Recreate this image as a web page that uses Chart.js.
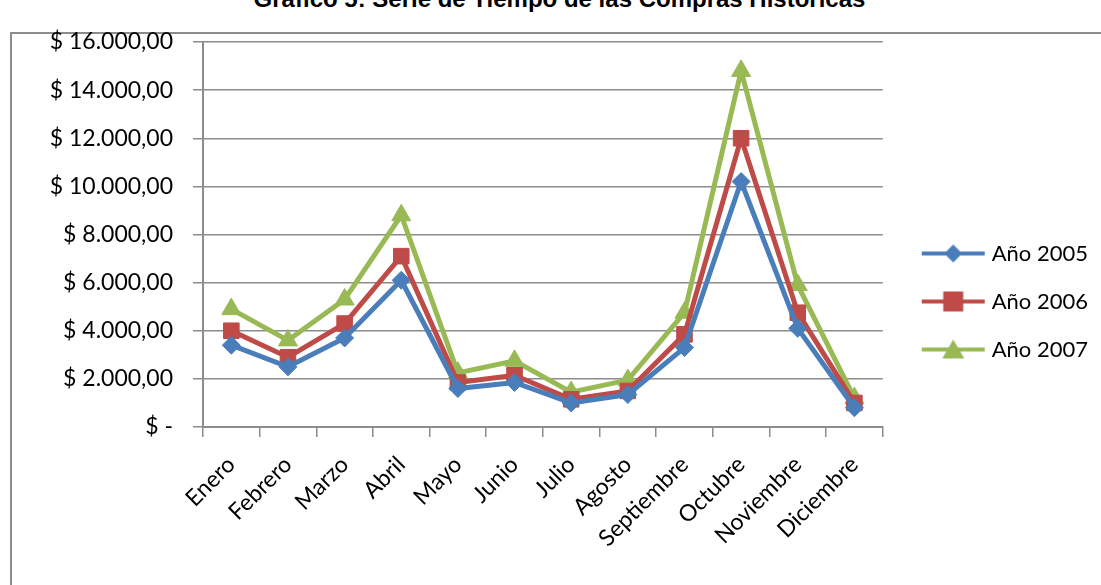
<!DOCTYPE html>
<html>
<head>
<meta charset="utf-8">
<script src="https://cdn.jsdelivr.net/npm/chart.js@4"></script>
<style>
  body { margin: 0; background: #fff; width: 1101px; height: 585px; overflow: hidden; position: relative; }
  #titulo { position: absolute; left: 9px; width: 1101px; top: -15px; text-align: center;
            font: bold 24px "Liberation Sans", Arial, sans-serif; color: #000; }
  #marco { position: absolute; left: 10px; top: 32px; width: 1200px; height: 700px; border: 2px solid #8c8c8c; }
  #wrap { position: absolute; left: 0; top: 0; width: 1101px; height: 585px; }
</style>
</head>
<body>
<div id="titulo">Gráfico 5: Serie de Tiempo de las Compras Históricas</div>
<div id="marco"></div>
<div id="wrap"><canvas id="myChart"></canvas></div>
<script>
const meses = ["Enero", "Febrero", "Marzo", "Abril", "Mayo", "Junio", "Julio", "Agosto",
               "Septiembre", "Octubre", "Noviembre", "Diciembre"];
const anio2005 = [3400, 2500, 3700, 6100, 1600, 1850, 1000, 1350, 3300, 10200, 4100, 800];
const anio2006 = [4000, 2900, 4300, 7100, 1850, 2150, 1150, 1500, 3850, 12000, 4750, 1000];
const anio2007 = [4900, 3600, 5300, 8800, 2250, 2750, 1450, 1950, 4750, 14800, 5900, 1200];
const ticksY = [0, 2000, 4000, 6000, 8000, 10000, 12000, 14000, 16000];

const azul = "#4a7ebb";
const rojo = "#be4b48";
const verde = "#98b954";
const fuente = "Lato, 'Open Sans', sans-serif";

// icono de la leyenda: linea con marcador (centrado en 41, la linea va de 18 a 81)
function iconoLeyenda(color, estilo) {
  const c = document.createElement('canvas');
  c.width = 82; c.height = 22;
  const g = c.getContext('2d');
  g.strokeStyle = color; g.fillStyle = color; g.lineWidth = 4;
  g.beginPath(); g.moveTo(18, 11); g.lineTo(81, 11); g.stroke();
  const m = 49.5;
  g.beginPath();
  if (estilo === 'rectRot') {
    g.moveTo(m, 2); g.lineTo(m + 9, 11); g.lineTo(m, 20); g.lineTo(m - 9, 11);
  } else if (estilo === 'rect') {
    g.rect(m - 10, 1, 20, 20);
  } else {
    g.moveTo(m, 1); g.lineTo(m + 11, 20); g.lineTo(m - 11, 20);
  }
  g.closePath(); g.fill();
  return c;
}

function formatoPesos(v) {
  if (v === 0) return "$ -";
  return "$ " + v.toLocaleString('de-DE', { minimumFractionDigits: 2, maximumFractionDigits: 2 });
}

const data = {
  labels: meses,
  datasets: [
    { label: "Año 2005", data: anio2005, borderColor: azul, backgroundColor: azul,
      pointStyle: 'rectRot', pointRadius: 9, borderWidth: 5, pointBorderWidth: 1 },
    { label: "Año 2006", data: anio2006, borderColor: rojo, backgroundColor: rojo,
      pointStyle: 'rect', pointRadius: 11, borderWidth: 5, pointBorderWidth: 1 },
    { label: "Año 2007", data: anio2007, borderColor: verde, backgroundColor: verde,
      pointStyle: 'triangle', pointRadius: 11, borderWidth: 5, pointBorderWidth: 1 },
  ],
};
const iconos = [iconoLeyenda(azul, 'rectRot'), iconoLeyenda(rojo, 'rect'), iconoLeyenda(verde, 'triangle')];

const config = {
  type: 'line',
  data: data,
  options: {
    responsive: true,
    maintainAspectRatio: false,
    animation: false,
    layout: { padding: { left: 0, top: 42, right: 3, bottom: 24 } },
    scales: {
      x: {
        offset: true,
        grid: { offset: true, drawOnChartArea: false, color: "#8c8c8c", lineWidth: 1.5, tickLength: 10 },
        border: { color: "#8c8c8c", width: 2 },
        ticks: { color: "#000", font: { size: 23, family: fuente }, maxRotation: 45, minRotation: 45, padding: 14 },
        afterFit: function (s) { s.height = 134; },
      },
      y: {
        min: 0,
        max: 16000,
        afterBuildTicks: function (s) { s.ticks = ticksY.map(v => ({ value: v })); },
        grid: { color: "#8c8c8c", lineWidth: 1.5, tickLength: 10 },
        border: { color: "#8c8c8c", width: 2 },
        ticks: { color: "#000", font: { size: 23, family: fuente }, padding: 20, callback: formatoPesos },
        afterFit: function (s) { s.width = 203; },
      },
    },
    plugins: {
      legend: {
        position: 'right',
        labels: {
          usePointStyle: true,
          pointStyleWidth: 72,
          color: "#000",
          padding: 26,
          font: { size: 22, family: fuente },
          generateLabels: function (chart) {
            return chart.data.datasets.map((ds, i) => ({
              text: ds.label, pointStyle: iconos[i], fillStyle: ds.borderColor,
              strokeStyle: ds.borderColor, lineWidth: 0, datasetIndex: i, hidden: false,
            }));
          },
        },
      },
      tooltip: { enabled: false },
    },
  },
};

const myChart = new Chart(document.getElementById('myChart'), config);
</script>
</body>
</html>
